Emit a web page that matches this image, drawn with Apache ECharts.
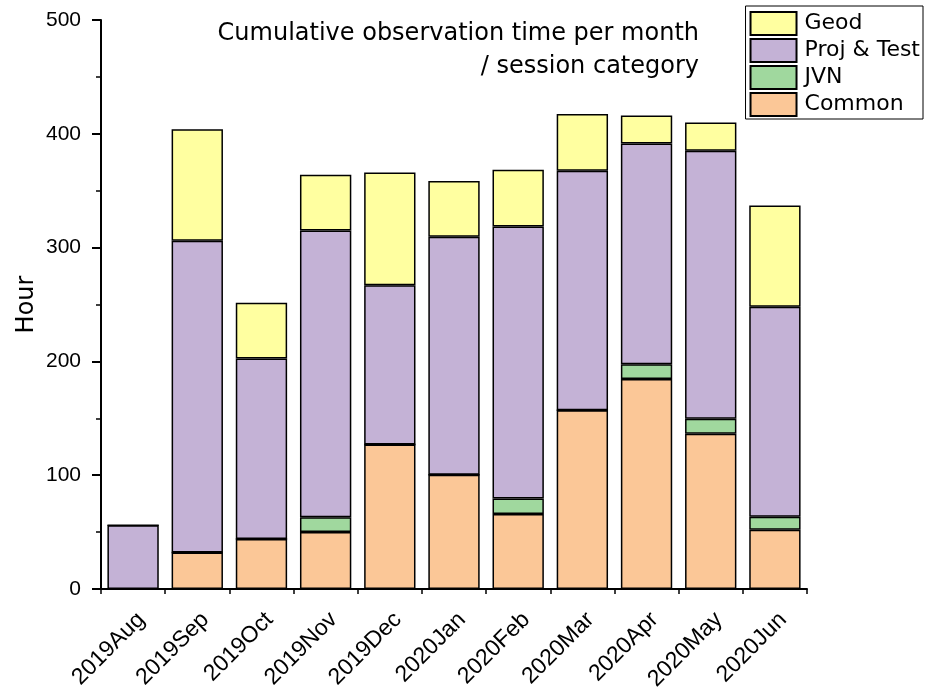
<!DOCTYPE html>
<html><head><meta charset="utf-8">
<script src="https://cdn.jsdelivr.net/npm/echarts@6/dist/echarts.min.js"></script>
<style>html,body{margin:0;padding:0;background:#fff}#c{width:927px;height:691px}</style>
</head><body><div id="c"></div>
<script>
const categories = ['2019Aug','2019Sep','2019Oct','2019Nov','2019Dec','2020Jan','2020Feb','2020Mar','2020Apr','2020May','2020Jun'];
const common   = [0, 32, 44, 50, 127, 100.5, 66, 157, 184.5, 136.5, 52];
const jvn      = [0, 0, 0, 13, 0, 0, 13.5, 0, 13, 13, 11.5];
const projTest = [56, 274, 158.5, 252, 140, 209, 239, 210.5, 194, 235.5, 184.5];
const geod     = [0, 98, 49, 49, 99, 49, 50, 50, 24.5, 25, 89];
const yTicks = [0, 100, 200, 300, 400, 500];
const titleLines = ['Cumulative observation time per month', '/ session category'];

const font = '"Liberation Sans", Arial, sans-serif';
const wide = '"DejaVu Sans", sans-serif';
const chart = echarts.init(document.getElementById('c'), null, {renderer:'canvas'});
function s(name, data, color){
  return {name, type:'bar', stack:'total', data, barCategoryGap:'20%',
    itemStyle:{color, borderColor:'#000', borderWidth:1.5}, emphasis:{disabled:true}};
}
chart.setOption({
  animation:false,
  graphic:[
    {type:'text', style:{text:titleLines[0], x:699, y:34, align:'right', verticalAlign:'middle', font:'24px ' + wide, fill:'#000'}},
    {type:'text', style:{text:titleLines[1], x:699, y:67, align:'right', verticalAlign:'middle', font:'24px ' + wide, fill:'#000'}}
  ],
  legend:{orient:'vertical', right:4, top:6, data:['Geod','Proj & Test','JVN','Common'], icon:'rect',
    itemWidth:46, itemHeight:23, itemGap:2, padding:[5,3,2,4], borderColor:'#000', borderWidth:1,
    textStyle:{fontFamily:wide, fontSize:22, lineHeight:23, color:'#000', padding:[0,0,0,3]}, selectedMode:false},
  grid:{left:101, right:120, top:20, bottom:102, outerBoundsMode:'none'},
  xAxis:[{type:'category', data:categories, position:'bottom',
    axisLine:{lineStyle:{color:'#000', width:2}},
    axisTick:{alignWithLabel:true, length:9, lineStyle:{color:'#000', width:2}},
    axisLabel:{rotate:45, interval:0, fontFamily:font, fontSize:23, color:'#000', margin:19, align:'right', verticalAlign:'top'}},
   {type:'category', data:categories, position:'bottom',
    axisLine:{show:true, lineStyle:{color:'#000', width:2, opacity:0}}, axisLabel:{show:false},
    axisTick:{show:true, interval:0, alignWithLabel:false, length:5, lineStyle:{color:'#000', width:1.5}}}],
  yAxis:{type:'value', min:yTicks[0], max:yTicks[yTicks.length-1], interval:100,
    name:'Hour', nameLocation:'middle', nameGap:62, nameMoveOverlap:false,
    nameTextStyle:{fontFamily:wide, fontSize:24, color:'#000'},
    axisLine:{show:true, lineStyle:{color:'#000', width:2}},
    axisTick:{show:true, length:9, lineStyle:{color:'#000', width:2}},
    minorTick:{show:true, splitNumber:2, length:5, lineStyle:{color:'#000', width:1.5}},
    splitLine:{show:false},
    axisLabel:{fontFamily:font, fontSize:21, color:'#000', margin:20}},
  series:[s('Common', common, '#FBC797'), s('JVN', jvn, '#A0D89E'), s('Proj & Test', projTest, '#C4B2D6'), s('Geod', geod, '#FFFFA0')]
});
</script></body></html>
